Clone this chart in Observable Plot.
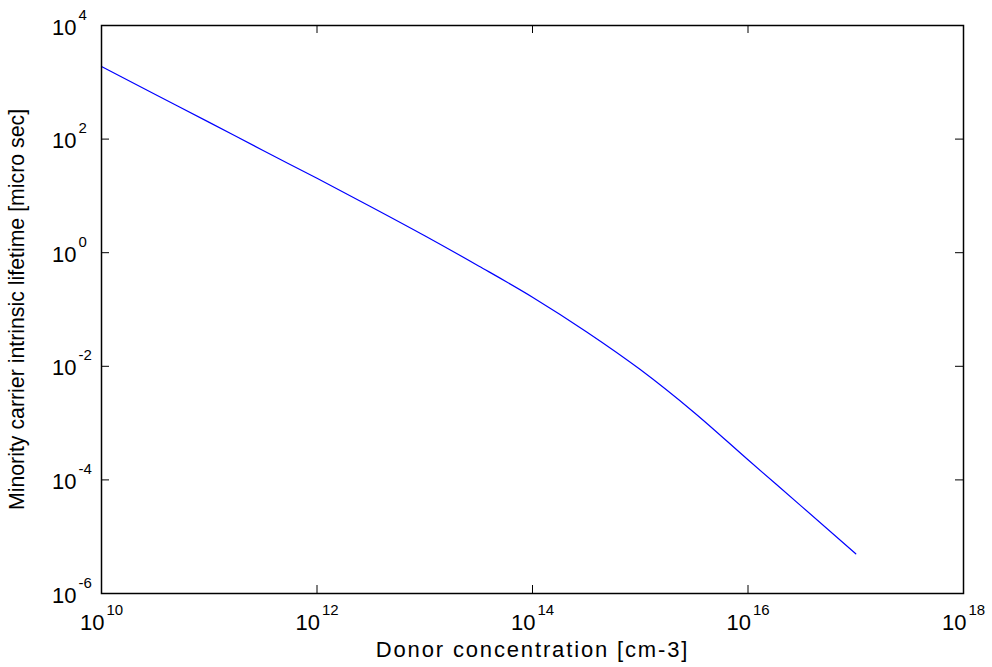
<!DOCTYPE html>
<html><head><meta charset="utf-8">
<script src="https://cdn.jsdelivr.net/npm/d3@7"></script>
<script src="https://cdn.jsdelivr.net/npm/@observablehq/plot@0.6"></script>
<style>body{margin:0;background:#fff;} svg{display:block}</style>
</head><body><div id="chart"></div>
<script>
const donor = [1e10, 3.16e10, 1e11, 3.16e11, 1e12, 3.16e12, 1e13, 3.16e13, 1e14, 3.16e14, 1e15, 3.16e15, 1e16, 3.16e16, 1e17];
const lifetime = [1897, 611, 197, 63, 20.4, 6.46, 1.99, 0.585, 0.165, 0.0407, 0.00877, 0.00154, 2.26e-4, 3.39e-5, 5.0e-6];
const xTicks = [1e10, 1e12, 1e14, 1e16, 1e18];
const yTicks = [1e-6, 1e-4, 1e-2, 1e0, 1e2, 1e4];
const xLabel = "Donor concentration [cm-3]";
const yLabel = "Minority carrier intrinsic lifetime [micro sec]";

const data = donor.map((d, i) => ({donor: d, lifetime: lifetime[i]}));
const W = 992, H = 667, mL = 101, mR = 29, mT = 25, mB = 74;
const innerW = W - mL - mR, innerH = H - mT - mB;
const expFmt = d => "10^" + Math.round(Math.log10(d));

const chart = Plot.plot({
  width: W, height: H,
  marginLeft: mL, marginRight: mR, marginTop: mT, marginBottom: mB,
  style: {fontFamily: "'Liberation Sans', Arial, sans-serif", fontSize: "22px", color: "#000", background: "#fff"},
  x: {type: "log", domain: [1e10, 1e18]},
  y: {type: "log", domain: [1e-6, 1e4]},
  marks: [
    Plot.axisX({ticks: xTicks, tickSize: 0, tickPadding: 36, tickFormat: expFmt,
      label: xLabel, labelAnchor: "center", labelOffset: 63, labelArrow: "none", fontSize: 22}),
    Plot.axisY({ticks: yTicks, tickSize: 0, tickPadding: 25, tickFormat: expFmt,
      label: yLabel, labelAnchor: "center", labelOffset: 93, labelArrow: "none", fontSize: 22}),
    Plot.tickY(yTicks, {y: d => d, insetRight: innerW - 8, stroke: "#000", strokeWidth: 1}),
    Plot.tickY(yTicks, {y: d => d, insetLeft: innerW - 8, stroke: "#000", strokeWidth: 1}),
    Plot.tickX(xTicks, {x: d => d, insetTop: innerH - 8, stroke: "#000", strokeWidth: 1}),
    Plot.tickX(xTicks, {x: d => d, insetBottom: innerH - 8, stroke: "#000", strokeWidth: 1}),
    Plot.line(data, {x: "donor", y: "lifetime", stroke: "#0000ff", strokeWidth: 1.2, curve: "monotone-x"}),
    Plot.frame({stroke: "#000", strokeWidth: 1.5})
  ]
});
document.getElementById("chart").append(chart);

const NS = "http://www.w3.org/2000/svg";
function sup(text, isY) {
  const s = text.textContent;
  const parts = s.split("^");
  text.textContent = "";
  const t1 = document.createElementNS(NS, "tspan");
  t1.textContent = parts[0];
  const t2 = document.createElementNS(NS, "tspan");
  t2.textContent = parts[1];
  t2.setAttribute("font-size", "15");
  t2.setAttribute("dy", "-15");
  if (isY) {
    text.setAttribute("text-anchor", "end");
    text.setAttribute("y", "9");
    t2.setAttribute("x", "2");
    t2.setAttribute("text-anchor", "start");
  } else {
    text.setAttribute("y", "0");
    t2.setAttribute("dx", "2");
  }
  text.append(t1, t2);
}
chart.querySelectorAll('g[aria-label="x-axis tick label"] text').forEach(t => sup(t, false));
chart.querySelectorAll('g[aria-label="y-axis tick label"] text').forEach(t => sup(t, true));
chart.querySelectorAll('g[aria-label="x-axis label"] text').forEach(t => t.setAttribute("letter-spacing", "1.85"));
chart.querySelectorAll('g[aria-label="y-axis label"] text').forEach(t => t.setAttribute("font-size", "21.3"));
</script>
</body></html>
